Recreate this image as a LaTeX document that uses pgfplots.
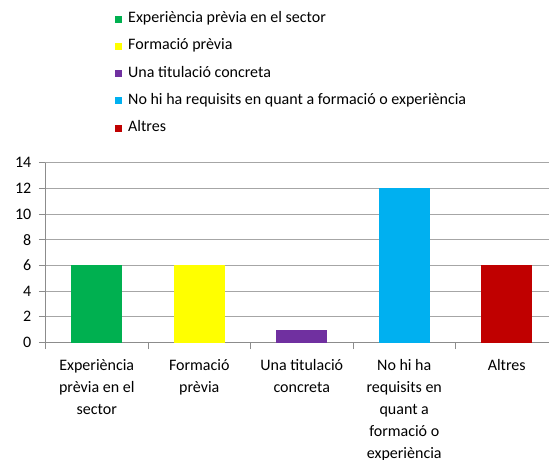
\documentclass[border=0pt]{standalone}
\usepackage{pgfplots}
\pgfplotsset{compat=1.18}
\usepackage{fontspec}
\setmainfont{Carlito}
\definecolor{cgreen}{HTML}{00B050}
\definecolor{cyellow}{HTML}{FFFF00}
\definecolor{cpurple}{HTML}{7030A0}
\definecolor{cblue}{HTML}{00B0F0}
\definecolor{cred}{HTML}{C00000}
\definecolor{gridgray}{HTML}{A6A6A6}
\definecolor{axgray}{HTML}{8C8C8C}
\pgfplotsset{sqleg/.style={legend image code/.code={\fill[##1] (0pt,-3.5pt) rectangle (7pt,3.5pt);}}}
\begin{document}
\fontsize{16}{22}\selectfont
\begin{tikzpicture}
\useasboundingbox (0,0) rectangle (549pt,459pt);
\clip (0,0) rectangle (549pt,459pt);
\begin{axis}[
    at={(45.5pt,116.5pt)}, anchor=south west,
    scale only axis, width=512.5pt, height=180pt,
    ybar, bar width=51pt,
    xmin=-0.5, xmax=4.5, ymin=0, ymax=14,
    ytick={0,2,...,14},
    xtick={-0.5,0.5,...,4.5},
    x tick label as interval,
    xticklabels={{Experiència\\prèvia en el\\sector},{Formació\\prèvia},{Una titulació\\concreta},{No hi ha\\requisits en\\quant a\\formació o\\experiència},{Altres}},
    axis x line*=bottom, axis y line*=left,
    axis line style={color=axgray, line width=0.8pt},
    tick align=outside, major tick length=6.7pt,
    tick style={color=axgray, line width=0.8pt},
    ymajorgrids, grid style={color=gridgray, line width=0.8pt},
    /pgf/number format/assume math mode=true,
    tick label style={font=\fontsize{16}{22}\selectfont},
    xticklabel style={align=center, anchor=north, yshift=-5pt},
    yticklabel style={anchor=east, xshift=-2pt},
    legend style={at={(0.1356,1.8333)}, anchor=north west, draw=none, fill=none,
        inner sep=0pt, row sep=14.2pt, column sep=6pt,
        font=\fontsize{16}{18}\selectfont,
        nodes={inner sep=0pt, text height=10pt, text depth=3pt}},
    legend cell align=left,
]
\addplot[fill=cgreen, draw=none, bar shift=0pt, sqleg] coordinates {(0,6)};
\addplot[fill=cyellow, draw=none, bar shift=0pt, sqleg] coordinates {(1,6)};
\addplot[fill=cpurple, draw=none, bar shift=0pt, sqleg] coordinates {(2,1)};
\addplot[fill=cblue, draw=none, bar shift=0pt, sqleg] coordinates {(3,12)};
\addplot[fill=cred, draw=none, bar shift=0pt, sqleg] coordinates {(4,6)};
\legend{Experiència prèvia en el sector, Formació prèvia, Una titulació concreta, No hi ha requisits en quant a formació o experiència, Altres}
\end{axis}
\end{tikzpicture}
\end{document}
